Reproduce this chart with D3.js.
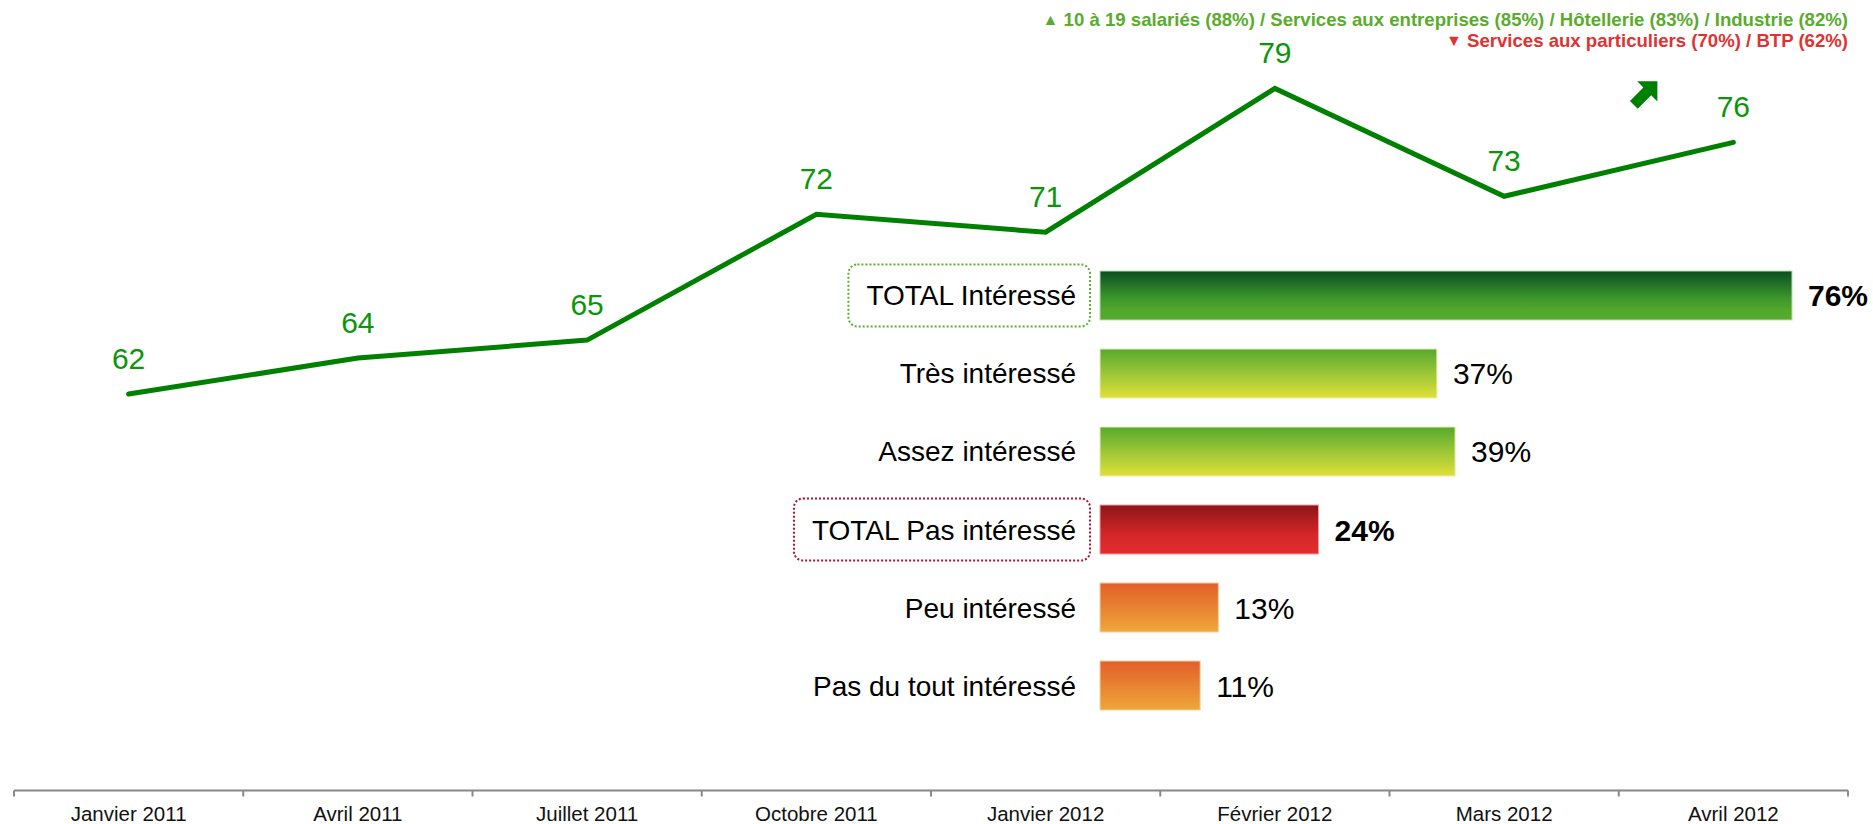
<!DOCTYPE html>
<html>
<head>
<meta charset="utf-8">
<script src="https://cdn.jsdelivr.net/npm/d3@7"></script>
<style>
  html, body { margin: 0; padding: 0; background: #ffffff; }
  svg { display: block; font-family: "Liberation Sans", Arial, sans-serif; }
</style>
</head>
<body>
<svg id="chart" width="1873" height="824"></svg>
<script>
// ---- data ----
const months = ["Janvier 2011", "Avril 2011", "Juillet 2011", "Octobre 2011",
                "Janvier 2012", "Février 2012", "Mars 2012", "Avril 2012"];
const trendValues = [62, 64, 65, 72, 71, 79, 73, 76];

const barCategories = ["TOTAL Intéressé", "Très intéressé", "Assez intéressé",
                       "TOTAL Pas intéressé", "Peu intéressé", "Pas du tout intéressé"];
const barValues = [76, 37, 39, 24, 13, 11];
const barKinds = ["totalPos", "pos", "pos", "totalNeg", "neg", "neg"];

const noteUp = "10 à 19 salariés (88%) / Services aux entreprises (85%) / Hôtellerie (83%) / Industrie (82%)";
const noteDown = "Services aux particuliers (70%) / BTP (62%)";

// ---- setup ----
const svg = d3.select("#chart");

const defs = svg.append("defs");
const gradSpecs = {
  totalPos: [["0%", "#0a4e22"], ["55%", "#3c962b"], ["80%", "#52a82c"], ["100%", "#56ab2d"]],
  pos:      [["0%", "#56aa2c"], ["50%", "#9cc637"], ["100%", "#e0df36"]],
  totalNeg: [["0%", "#8c1519"], ["60%", "#d42628"], ["100%", "#e42d2d"]],
  neg:      [["0%", "#e25f29"], ["50%", "#e88332"], ["100%", "#eea83b"]]
};
const strokeSpecs = { totalPos: "#b9dca6", pos: "#e6edb0", totalNeg: "#f0a0a0", neg: "#f5cf9c" };
Object.entries(gradSpecs).forEach(([k, stops]) => {
  const g = defs.append("linearGradient").attr("id", "g-" + k)
    .attr("x1", 0).attr("y1", 0).attr("x2", 0).attr("y2", 1);
  stops.forEach(s => g.append("stop").attr("offset", s[0]).attr("stop-color", s[1]));
});

// ---- line chart scales ----
const x = d3.scaleBand().domain(months).range([14, 1848]).padding(0);
const y = d3.scaleLinear().domain([60, 80]).range([430, 70.4]);
const cx = m => x(m) + x.bandwidth() / 2;

// ---- axis ----
const axisY = 790.5;
const axis = svg.append("g").attr("class", "axis");
axis.append("line")
  .attr("x1", x.range()[0]).attr("x2", x.range()[1])
  .attr("y1", axisY).attr("y2", axisY)
  .attr("stroke", "#888888").attr("stroke-width", 2);
const tickPos = months.map(m => x(m)).concat([x.range()[1]]);
axis.selectAll("line.tick").data(tickPos).join("line").attr("class", "tick")
  .attr("x1", d => d).attr("x2", d => d)
  .attr("y1", axisY).attr("y2", axisY + 6)
  .attr("stroke", "#888888").attr("stroke-width", 2);
axis.selectAll("text").data(months).join("text")
  .attr("x", d => cx(d)).attr("y", 821)
  .attr("text-anchor", "middle")
  .attr("font-size", 20.5).attr("fill", "#111")
  .text(d => d);

// ---- trend line ----
const pts = months.map((m, i) => [cx(m), y(trendValues[i])]);
svg.append("path")
  .attr("d", d3.line()(pts))
  .attr("fill", "none").attr("stroke", "#008000")
  .attr("stroke-width", 5).attr("stroke-linecap", "round").attr("stroke-linejoin", "miter");

svg.append("g").selectAll("text").data(trendValues).join("text")
  .attr("x", (d, i) => cx(months[i])).attr("y", d => y(d) - 25)
  .attr("text-anchor", "middle").attr("font-size", 30).attr("fill", "#0a960a")
  .text(d => d);

// ---- up arrow near last point ----
const last = pts[pts.length - 1];
const arrowShape = [[0, 0], [-18, 0], [-12.5, 5.5], [-24.5, 17.5], [-17.5, 24.5], [-5.5, 12.5], [0, 18]];
svg.append("path")
  .attr("d", "M" + arrowShape.map(p => p.join(",")).join("L") + "Z")
  .attr("transform", `translate(${last[0] - 76},${last[1] - 61}) scale(1.12)`)
  .attr("fill", "#008000");

// ---- horizontal bars ----
const yb = d3.scaleBand().domain(barCategories).range([271, 710]).paddingInner(0.372).paddingOuter(0);
const xb = d3.scaleLinear().domain([0, 100]).range([1100, 2010.5]);
const bh = yb.bandwidth();

const rows = svg.append("g").selectAll("g.row")
  .data(barCategories.map((c, i) => ({ c, v: barValues[i], k: barKinds[i] })))
  .join("g").attr("class", "row");

rows.append("rect")
  .attr("x", xb(0)).attr("y", d => yb(d.c))
  .attr("width", d => xb(d.v) - xb(0)).attr("height", bh)
  .attr("fill", d => `url(#g-${d.k})`)
  .attr("stroke", d => strokeSpecs[d.k]).attr("stroke-width", 1);

rows.append("text")
  .attr("class", "vlab")
  .attr("x", d => xb(d.v) + 16).attr("y", d => yb(d.c) + bh / 2 + 11)
  .attr("font-size", 30).attr("fill", "#000")
  .attr("font-weight", d => d.k.startsWith("total") ? "bold" : "normal")
  .text(d => d.v + "%");

const catLabels = rows.append("text")
  .attr("class", "clab")
  .attr("x", xb(0) - 24).attr("y", d => yb(d.c) + bh / 2 + 10)
  .attr("text-anchor", "end").attr("font-size", 28).attr("fill", "#000")
  .text(d => d.c);

// dotted boxes around totals
catLabels.each(function (d) {
  if (!d.k.startsWith("total")) return;
  const bb = this.getBBox();
  const left = bb.x - 18, right = xb(0) - 10;
  const mid = yb(d.c) + bh / 2;
  d3.select(this.parentNode).insert("rect", "text.clab")
    .attr("x", left).attr("y", mid - 31)
    .attr("width", right - left).attr("height", 62)
    .attr("rx", 9).attr("ry", 9)
    .attr("fill", "none")
    .attr("stroke", d.k === "totalPos" ? "#5ab031" : "#b5122e")
    .attr("stroke-width", 2).attr("stroke-dasharray", "2,2");
});

// ---- notes top right ----
const notes = svg.append("g").attr("font-weight", "bold").attr("font-size", 18.6).attr("text-anchor", "end");
const t1 = notes.append("text").attr("x", 1848).attr("y", 26).attr("fill", "#5aab2e");
t1.append("tspan").attr("font-size", 16).attr("dy", -1).text("▲");
t1.append("tspan").attr("dy", 1).text(" " + noteUp);
const t2 = notes.append("text").attr("x", 1848).attr("y", 47).attr("fill", "#e03232");
t2.append("tspan").attr("font-size", 16).attr("dy", -1).text("▼");
t2.append("tspan").attr("dy", 1).text(" " + noteDown);
</script>
</body>
</html>
